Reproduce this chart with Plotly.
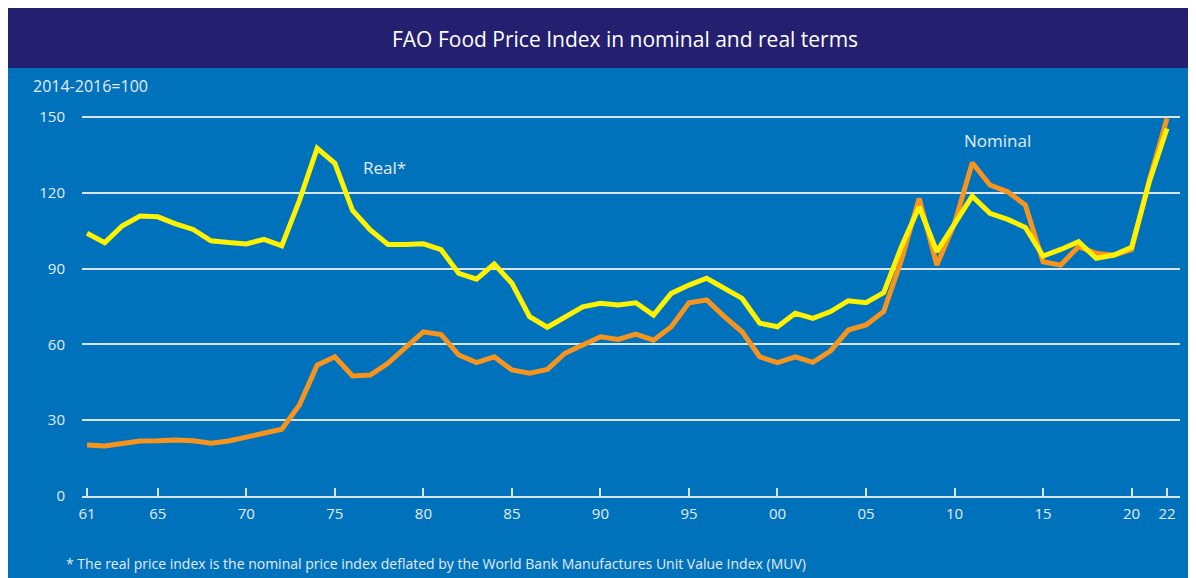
import plotly.graph_objects as go

years = list(range(1961, 2023))
real = [104, 100.3, 107, 110.8, 110.5, 107.7, 105.5, 101, 100.3, 99.8,
        101.6, 99, 117, 137.6, 131.7, 113, 105.3, 99.6, 99.6, 99.8,
        97.5, 88.1, 85.8, 91.8, 84.2, 71, 66.8, 71, 74.9, 76.3,
        75.6, 76.5, 71.6, 80.2, 83.5, 86.2, 82.2, 78.2, 68.4, 67,
        72.3, 70.3, 73, 77.3, 76.5, 80.5, 98.7, 114.5, 96.7, 107.9,
        118.7, 111.9, 109.5, 106.3, 95, 97.6, 100.7, 94.1, 95.4, 98.4,
        124.4, 145.5]
nominal = [20.2, 19.8, 20.8, 21.8, 21.9, 22.2, 21.9, 20.9, 21.8, 23.2,
           24.8, 26.4, 36, 51.8, 55.1, 47.5, 47.9, 52.5, 58.8, 65,
           63.9, 55.8, 52.8, 55.1, 49.9, 48.6, 50.1, 56.5, 59.8, 63,
           62, 64.1, 61.7, 67, 76.5, 77.6, 71, 65, 55.1, 52.8,
           55.1, 52.9, 57.5, 65.7, 67.7, 73, 93.4, 117.8, 91.4, 107.9,
           131.9, 123.1, 120.4, 115.2, 92.7, 91.4, 98.7, 96.1, 95.3, 97.6,
           125, 149.5]
tick_years = [1961, 1965, 1970, 1975, 1980, 1985, 1990, 1995, 2000, 2005, 2010, 2015, 2020, 2022]
tick_text = ['61', '65', '70', '75', '80', '85', '90', '95', '00', '05', '10', '15', '20', '22']
y_ticks = [0, 30, 60, 90, 120, 150]

# page body has an 8px margin; figure sits at (8, 8) and overflows the window slightly
OFF = 8
W, H = 1196, 578
# plot area in page pixels: x 82..1180, y 112..496
ML, MT = 82 - OFF, 112 - OFF
MR = (W + OFF) - 1180
MB = (H + OFF) - 496
PW, PH = W - ML - MR, H - MT - MB

def px(x):
    return (x - OFF - ML) / PW

def py(y):
    return (H - MB - (y - OFF)) / PH

BLUE = "#0072BC"
NAVY = "#241F70"
TXT = "#E4ECF6"
GRID = "#D6E4F3"
FONT = "Open Sans"

fig = go.Figure()
fig.add_trace(go.Scatter(x=years, y=nominal, mode="lines", name="Nominal",
                         line=dict(color="#F7941D", width=5), showlegend=False))
fig.add_trace(go.Scatter(x=years, y=real, mode="lines", name="Real*",
                         line=dict(color="#FFF200", width=5), showlegend=False))

shapes = [
    dict(type="rect", xref="paper", yref="paper", x0=px(0), x1=px(1220), y0=py(0), y1=py(68),
         fillcolor=NAVY, line=dict(width=0), layer="below"),
]

annotations = [
    dict(text="FAO Food Price Index in nominal and real terms", xref="paper", yref="paper",
         x=px(625), y=py(39), xanchor="center", yanchor="middle", showarrow=False,
         font=dict(family=FONT, size=21, color="white")),
    dict(text="2014-2016=100", xref="paper", yref="paper",
         x=px(31), y=py(86), xanchor="left", yanchor="middle", showarrow=False,
         font=dict(family=FONT, size=16, color=TXT)),
    dict(text="Real*", xref="paper", yref="paper",
         x=px(384), y=py(167), xanchor="center", yanchor="middle", showarrow=False,
         font=dict(family=FONT, size=17, color=TXT)),
    dict(text="Nominal", xref="paper", yref="paper",
         x=px(997), y=py(140), xanchor="center", yanchor="middle", showarrow=False,
         font=dict(family=FONT, size=17, color=TXT)),
    dict(text="* The real price index is the nominal price index deflated by the World Bank Manufactures Unit Value Index (MUV)",
         xref="paper", yref="paper", x=px(64), y=py(563), xanchor="left", yanchor="middle", showarrow=False,
         font=dict(family=FONT, size=14, color=TXT)),
]

fig.update_layout(
    width=W, height=H,
    margin=dict(l=ML, r=MR, t=MT, b=MB),
    paper_bgcolor=BLUE, plot_bgcolor=BLUE,
    shapes=shapes, annotations=annotations,
    showlegend=False,
    xaxis=dict(range=[1961 - 5 / 17.71, 2022 + 13 / 17.71], tickvals=tick_years, ticktext=tick_text,
               showgrid=False, zeroline=False, showline=True, linecolor=GRID, linewidth=2,
               ticks="inside", ticklen=8, tickwidth=2, tickcolor=GRID,
               tickfont=dict(family=FONT, size=15, color=TXT), ticklabelstandoff=3),
    yaxis=dict(range=[0, 152], tickvals=y_ticks, showgrid=True, gridcolor=GRID, gridwidth=2,
               zeroline=False, showline=False, ticks="",
               tickfont=dict(family=FONT, size=15, color=TXT), ticklabelstandoff=16),
)

fig.write_html(
    "out.html",
    post_script="document.documentElement.style.overflow='hidden';document.body.style.overflow='hidden';",
)
